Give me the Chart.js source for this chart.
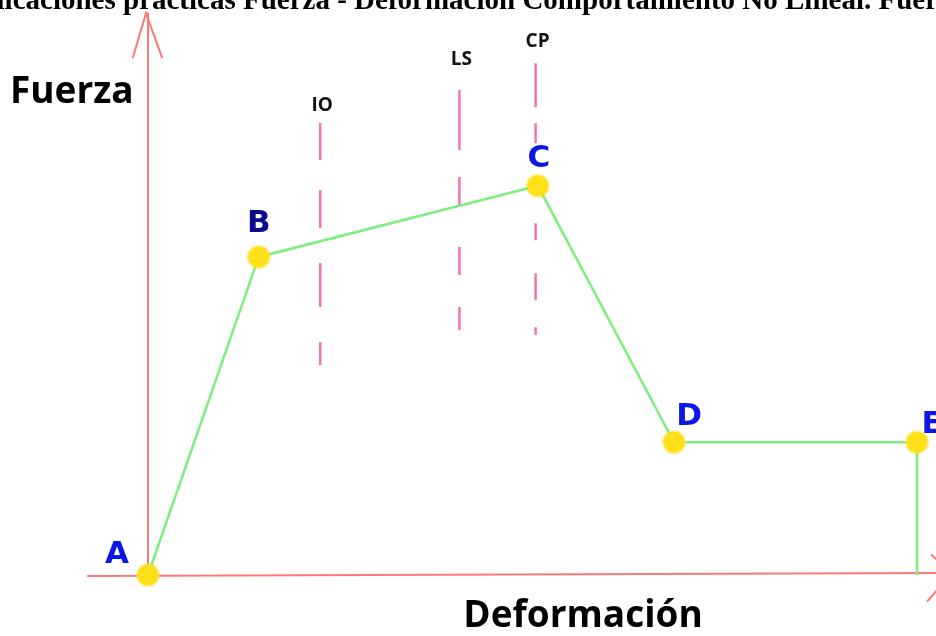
<!DOCTYPE html>
<html>
<head>
<meta charset="utf-8">
<script src="https://cdn.jsdelivr.net/npm/chart.js@4/dist/chart.umd.min.js"></script>
<style>
  html, body { margin: 0; padding: 0; background: #fff; }
  #wrap { width: 936px; height: 636px; position: relative; }
</style>
</head>
<body>
<div id="wrap"><canvas id="curve"></canvas></div>
<script>
// Curva Fuerza - Deformacion (unidades arbitrarias, 0..10 en ambos ejes)
var pointNames = ['A', 'B', 'C', 'D', 'E', ''];
var deformacion = [0, 1.44, 5.07, 6.84, 10, 10];
var fuerza = [0, 5.68, 6.95, 2.37, 2.37, 0];

// niveles de desempeno (lineas discontinuas)
var levelNames = ['IO', 'LS', 'CP'];
var levelX = [2.24, 4.05, 5.04];
var levelTop = [8.07, 8.66, 9.14];
var levelBottom = [3.75, 4.37, 4.29];
var levelLabelY = [8.39, 9.2, 9.52];

var titleText = 'Aplicaciones prácticas Fuerza - Deformación Comportamiento No Lineal. Fuerza';

// estilos
var axisColor = '#ff7878';
var curveColor = '#7eee7e';
var dotColor = '#ffe01a';
var levelColor = '#f274b2';
// trazos a mano, cada linea con su propio patron
var levelDash = [
  [37, 30, 38, 35, 44, 35, 23, 200],
  [60, 27, 28, 42, 28, 32, 23, 200],
  [44, 16, 20, 80, 17, 33, 27, 27, 8, 200]
];
var letterColors = {A: '#0b16e8', B: '#0b0b8c', C: '#0b16e8', D: '#0b16e8', E: '#0b16e8'};
var letterOffsets = {A: [-31, -20], B: [0, -33], C: [1, -27], D: [15, -25], E: [15, -17]};

var datasets = [{
  label: 'curva',
  data: deformacion.map(function(x, i) { return {x: x, y: fuerza[i]}; }),
  borderColor: curveColor,
  borderWidth: 2.5,
  pointRadius: pointNames.map(function(n) { return n ? 10.5 : 0; }),
  pointBackgroundColor: dotColor,
  pointBorderColor: 'rgba(255,224,26,0.5)',
  pointBorderWidth: 3,
  tension: 0,
  clip: false,
  order: 0
}];
for (var i = 0; i < levelNames.length; i++) {
  datasets.push({
    label: levelNames[i],
    data: [{x: levelX[i], y: levelTop[i]}, {x: levelX[i], y: levelBottom[i]}],
    borderColor: levelColor,
    borderWidth: 2.5,
    borderDash: levelDash[i],
    pointRadius: 0,
    clip: false,
    order: 1
  });
}

// ejes con flechas, titulo y rotulos
var decorPlugin = {
  id: 'decor',
  beforeDatasetsDraw: function(chart) {
    var ctx = chart.ctx;
    var sx = chart.scales.x, sy = chart.scales.y;
    var ox = sx.getPixelForValue(0), oy = sy.getPixelForValue(0);
    var top = sy.getPixelForValue(10.03);
    ctx.save();
    ctx.strokeStyle = axisColor;
    ctx.lineWidth = 2;
    ctx.lineCap = 'round';
    // eje vertical
    ctx.beginPath();
    ctx.moveTo(ox, oy + 1);
    ctx.lineTo(ox, top);
    ctx.stroke();
    ctx.beginPath();
    ctx.moveTo(ox - 15, top + 44);
    ctx.lineTo(ox - 2, top);
    ctx.lineTo(ox + 14, top + 44);
    ctx.stroke();
    // eje horizontal
    var left = sx.getPixelForValue(-0.78);
    var right = sx.getPixelForValue(10.45);
    ctx.beginPath();
    ctx.moveTo(left, oy + 1);
    ctx.lineTo(right, oy - 2);
    ctx.stroke();
    ctx.beginPath();
    ctx.moveTo(right - 20, oy - 20);
    ctx.lineTo(right, oy - 2);
    ctx.lineTo(right - 24, oy + 26);
    ctx.stroke();

    // titulo (recortado arriba)
    ctx.fillStyle = '#000';
    ctx.font = 'bold 29px "Liberation Serif", serif';
    ctx.textAlign = 'left';
    ctx.textBaseline = 'alphabetic';
    var startX = 123 - ctx.measureText('Aplicaciones ').width;
    ctx.fillText(titleText, startX, 9);

    // titulos de ejes
    ctx.font = 'bold 37px "Open Sans", sans-serif';
    ctx.textBaseline = 'middle';
    ctx.fillText('Fuerza', 10, 92);
    ctx.textAlign = 'center';
    ctx.fillText('Deformación', 583, 616);
    ctx.restore();
  },
  afterDatasetsDraw: function(chart) {
    var ctx = chart.ctx;
    var sx = chart.scales.x, sy = chart.scales.y;
    ctx.save();
    ctx.textAlign = 'center';
    ctx.textBaseline = 'middle';
    // rotulos de niveles
    ctx.fillStyle = '#111';
    ctx.font = 'bold 19px "Open Sans", sans-serif';
    for (var i = 0; i < levelNames.length; i++) {
      ctx.fillText(levelNames[i], sx.getPixelForValue(levelX[i]) + 2, sy.getPixelForValue(levelLabelY[i]));
    }
    // letras de los puntos
    ctx.font = 'bold 31px "DejaVu Sans", sans-serif';
    var pts = chart.getDatasetMeta(0).data;
    for (var j = 0; j < pointNames.length; j++) {
      var n = pointNames[j];
      if (!n) continue;
      ctx.fillStyle = letterColors[n];
      ctx.fillText(n, pts[j].x + letterOffsets[n][0], pts[j].y + letterOffsets[n][1]);
    }
    ctx.restore();
  }
};

new Chart(document.getElementById('curve'), {
  type: 'line',
  data: {datasets: datasets},
  options: {
    responsive: true,
    maintainAspectRatio: false,
    animation: false,
    layout: {padding: {left: 148, right: 19, top: 15, bottom: 61}},
    plugins: {legend: {display: false}, title: {display: false}, tooltip: {enabled: false}},
    scales: {
      x: {type: 'linear', min: 0, max: 10, display: false},
      y: {type: 'linear', min: 0, max: 10, display: false}
    }
  },
  plugins: [decorPlugin]
});
</script>
</body>
</html>
